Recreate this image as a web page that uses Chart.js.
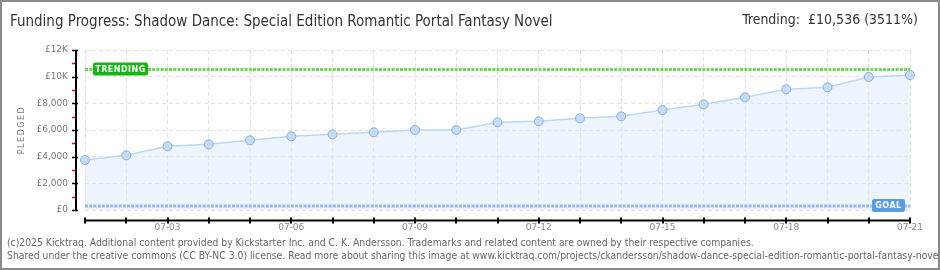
<!DOCTYPE html>
<html>
<head>
<meta charset="utf-8">
<script src="https://cdn.jsdelivr.net/npm/chart.js@4.4.1/dist/chart.umd.min.js"></script>
<style>
  html, body { margin: 0; padding: 0; background: #fff; }
  canvas { display: block; }
</style>
</head>
<body>
<canvas id="myChart" width="940" height="270"></canvas>
<script>
// data
var days = ['07-01', '07-02', '07-03', '07-04', '07-05', '07-06', '07-07', '07-08', '07-09', '07-10', '07-11',
    '07-12', '07-13', '07-14', '07-15', '07-16', '07-17', '07-18', '07-19', '07-20', '07-21'];
var pledged = [3750, 4100, 4775, 4925, 5225, 5525, 5675, 5825, 6000, 6000, 6575,
    6650, 6875, 7025, 7500, 7925, 8450, 9050, 9200, 9975, 10125];
var trending = 10536;
var goal = 300;
var yTicks = [0, 2000, 4000, 6000, 8000, 10000, 12000];
var yTickLabels = ['£0', '£2,000', '£4,000', '£6,000', '£8,000', '£10K', '£12K'];
var xTickLabels = ['07-03', '07-06', '07-09', '07-12', '07-15', '07-18', '07-21'];

var titleText = 'Funding Progress: Shadow Dance: Special Edition Romantic Portal Fantasy Novel';
var trendText = 'Trending:  £10,536 (3511%)';
var footer1 = '(c)2025 Kicktraq. Additional content provided by Kickstarter Inc. and C. K. Andersson. Trademarks and related content are owned by their respective companies.';
var footer2 = 'Shared under the creative commons (CC BY-NC 3.0) license. Read more about sharing this image at www.kicktraq.com/projects/ckandersson/shadow-dance-special-edition-romantic-portal-fantasy-novel/';

var narrow = '"Liberation Sans Narrow", "DejaVu Sans Condensed", sans-serif';

function roundBox(ctx, x, y, w, h, r, color) {
    ctx.fillStyle = color;
    ctx.beginPath();
    ctx.moveTo(x + r, y);
    ctx.lineTo(x + w - r, y);
    ctx.quadraticCurveTo(x + w, y, x + w, y + r);
    ctx.lineTo(x + w, y + h - r);
    ctx.quadraticCurveTo(x + w, y + h, x + w - r, y + h);
    ctx.lineTo(x + r, y + h);
    ctx.quadraticCurveTo(x, y + h, x, y + h - r);
    ctx.lineTo(x, y + r);
    ctx.quadraticCurveTo(x, y, x + r, y);
    ctx.fill();
}

var decor = {
    id: 'decor',
    beforeDraw: function (chart) {
        var ctx = chart.ctx;
        ctx.save();
        ctx.fillStyle = '#fff';
        ctx.fillRect(0, 0, chart.width, chart.height);
        ctx.restore();
    },
    afterDraw: function (chart) {
        var ctx = chart.ctx;
        var area = chart.chartArea;
        var x = chart.scales.x, y = chart.scales.y;
        ctx.save();

        // header
        ctx.fillStyle = '#333';
        ctx.font = '15px ' + narrow;
        ctx.textBaseline = 'middle';
        ctx.textAlign = 'left';
        ctx.fillText(titleText, 10, 22);
        ctx.font = '14px ' + narrow;
        ctx.textAlign = 'right';
        ctx.fillText(trendText, 918, 20);

        // y axis line + ticks
        var ax = area.left - 9;
        ctx.lineWidth = 1.5;
        for (var v = 0; v <= 12000; v += 1000) {
            var py = Math.round(y.getPixelForValue(v)) + 0.5;
            var major = (v % 2000 === 0);
            ctx.strokeStyle = major ? '#000' : '#e00';
            ctx.beginPath();
            ctx.moveTo(ax - 4, py);
            ctx.lineTo(major ? ax + 2 : ax, py);
            ctx.stroke();
        }
        ctx.strokeStyle = '#000';
        ctx.lineWidth = 2;
        ctx.beginPath();
        ctx.moveTo(ax, y.getPixelForValue(12000));
        ctx.lineTo(ax, y.getPixelForValue(0) + 1);
        ctx.stroke();

        // x axis line + ticks
        var ay = area.bottom + 10.5;
        ctx.beginPath();
        ctx.moveTo(area.left, ay);
        ctx.lineTo(area.right, ay);
        ctx.stroke();
        for (var i = 0; i < days.length; i++) {
            var px = Math.round(x.getPixelForValue(i));
            ctx.beginPath();
            ctx.moveTo(px, ay - 3);
            ctx.lineTo(px, ay + 3);
            ctx.stroke();
        }

        // y title
        ctx.save();
        ctx.translate(22, (area.top + area.bottom) / 2);
        ctx.rotate(-Math.PI / 2);
        ctx.fillStyle = '#777';
        ctx.font = '8px "DejaVu Sans", sans-serif';
        ctx.textAlign = 'center';
        ctx.textBaseline = 'middle';
        if (ctx.letterSpacing !== undefined) ctx.letterSpacing = '1.5px';
        ctx.fillText('PLEDGED', 0, 0);
        ctx.restore();

        // trending + goal tags
        var ty = y.getPixelForValue(trending);
        roundBox(ctx, area.left + 8, ty - 7, 55, 13, 2, '#17b417');
        var gy = y.getPixelForValue(goal);
        roundBox(ctx, area.right - 38, gy - 7, 33, 13, 2, '#5a9de0');
        ctx.fillStyle = '#fff';
        ctx.font = 'bold 8px "DejaVu Sans", sans-serif';
        ctx.textAlign = 'center';
        ctx.textBaseline = 'middle';
        if (ctx.letterSpacing !== undefined) ctx.letterSpacing = '0.5px';
        ctx.fillText('TRENDING', area.left + 35.5, ty);
        ctx.fillText('GOAL', area.right - 21.5, gy);
        if (ctx.letterSpacing !== undefined) ctx.letterSpacing = '0px';

        // footer
        ctx.fillStyle = '#666';
        ctx.font = '10.3px ' + narrow;
        ctx.textAlign = 'left';
        ctx.fillText(footer1, 7, 243);
        ctx.fillText(footer2, 7, 256);

        // frame
        ctx.strokeStyle = '#8a8a8a';
        ctx.lineWidth = 2;
        ctx.strokeRect(1, 1, chart.width - 2, chart.height - 2);
        ctx.restore();
    }
};

function createChart() {
    var ctx = document.getElementById('myChart').getContext('2d');
    new Chart(ctx, {
        type: 'line',
        data: {
            labels: days,
            datasets: [{
                data: pledged,
                borderColor: '#bcd7f3',
                borderWidth: 1.5,
                backgroundColor: 'rgba(214,230,248,0.45)',
                fill: 'origin',
                tension: 0,
                pointRadius: 4.5,
                pointBackgroundColor: '#c4dcf6',
                pointBorderColor: '#90aed2',
                pointBorderWidth: 1,
                order: 1
            }, {
                data: days.map(function () { return trending; }),
                borderColor: '#6fd45c',
                borderWidth: 3,
                borderDash: [3, 1.2],
                pointRadius: 0,
                fill: false,
                order: 2
            }, {
                data: days.map(function () { return goal; }),
                borderColor: '#95b8e4',
                borderWidth: 3,
                borderDash: [3, 1.2],
                pointRadius: 0,
                fill: false,
                order: 0
            }]
        },
        options: {
            responsive: false,
            animation: false,
            layout: { padding: { top: 50, right: 30, bottom: 35, left: 0 } },
            plugins: { legend: { display: false }, tooltip: { enabled: false } },
            scales: {
                x: {
                    offset: false,
                    grid: { color: '#e2e2e2', drawTicks: false },
                    border: { display: false, dash: [4, 3] },
                    afterFit: function (s) { s.height = 25; },
                    ticks: {
                        autoSkip: false,
                        maxRotation: 0,
                        padding: 12,
                        color: '#888',
                        font: { family: '"DejaVu Sans", sans-serif', size: 9 },
                        callback: function (val, idx) {
                            return xTickLabels.indexOf(days[idx]) >= 0 ? days[idx] : '';
                        }
                    }
                },
                y: {
                    min: 0,
                    max: 12000,
                    afterFit: function (s) { s.width = 85; },
                    afterBuildTicks: function (s) {
                        s.ticks = yTicks.map(function (v) { return { value: v }; });
                    },
                    grid: { color: '#e2e2e2', drawTicks: false },
                    border: { display: false, dash: [4, 3] },
                    ticks: {
                        padding: 17,
                        color: '#777',
                        font: { family: '"DejaVu Sans", sans-serif', size: 9 },
                        callback: function (val) { return yTickLabels[yTicks.indexOf(val)]; }
                    }
                }
            }
        },
        plugins: [decor]
    });
}

createChart();
</script>
</body>
</html>
